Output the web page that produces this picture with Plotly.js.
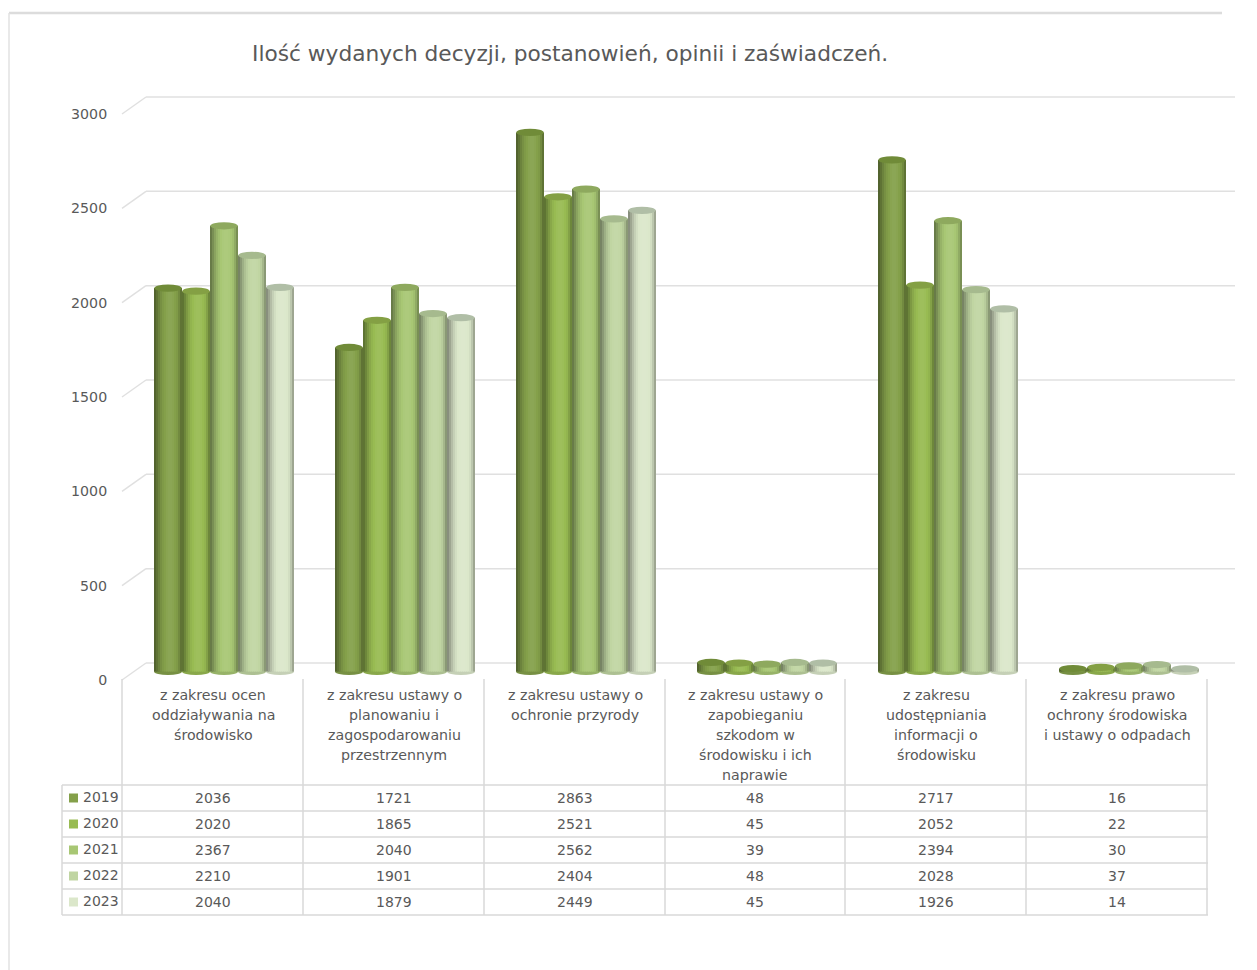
<!DOCTYPE html>
<html>
<head>
<meta charset="utf-8">
<script src="https://cdn.plot.ly/plotly-3.0.1.min.js"></script>
<style>html,body{margin:0;padding:0;background:#fff}#chart{width:1257px;height:970px}</style>
</head>
<body>
<div id="chart"></div>
<script>
const chartTitle = "Ilość wydanych decyzji, postanowień, opinii i zaświadczeń.";
const categories = [
  "z zakresu ocen<br>oddziaływania na<br>środowisko",
  "z zakresu ustawy o<br>planowaniu i<br>zagospodarowaniu<br>przestrzennym",
  "z zakresu ustawy o<br>ochronie przyrody",
  "z zakresu ustawy o<br>zapobieganiu<br>szkodom w<br>środowisku i ich<br>naprawie",
  "z zakresu<br>udostępniania<br>informacji o<br>środowisku",
  "z zakresu prawo<br>ochrony środowiska<br>i ustawy o odpadach"
];
const seriesNames = ["2019","2020","2021","2022","2023"];
const v2019 = [2036,1721,2863,48,2717,16];
const v2020 = [2020,1865,2521,45,2052,22];
const v2021 = [2367,2040,2562,39,2394,30];
const v2022 = [2210,1901,2404,48,2028,37];
const v2023 = [2040,1879,2449,45,1926,14];
const seriesValues = [v2019,v2020,v2021,v2022,v2023];
const yTicks = [0,500,1000,1500,2000,2500,3000];
const seriesColors = ["#84a04a","#98bb52","#a8c774","#c0d5a2","#dbe7ca"];
const capColors = ["#708b38","#84a044","#8ea95e","#a6ba8e","#b0bea6"];
const shade = [0.62,0.72,0.82,0.9,0.96,1.0,1.02,1.03,1.03,1.02,1.0,0.96,0.86,0.72];

const W=1257,H=970;
const px=x=>x/W, py=y=>1-y/H;
const GROUP=181, BAR=28, GROUP0=224;
const TXT="#595959", LINE="#d9d9d9", FONT='"DejaVu Sans", sans-serif';
const scale=(671.5-106.6)/3000, FLOOR=40;

function mix(hex,f){
  const n=parseInt(hex.slice(1),16);
  const c=[n>>16,(n>>8)&255,n&255].map(v=>Math.min(255,Math.round(f<=1?v*f:v+(255-v)*(f-1)*2)));
  return `rgb(${c.join(",")})`;
}
const barW=BAR/GROUP;
const traces=[];
traces.push({type:"scatter",mode:"none",x:categories,y:yTicks.slice(0,6),xaxis:"x",yaxis:"y",hoverinfo:"skip",showlegend:false});
const shapes=[];
seriesValues.forEach((vals,s)=>{
  const strip=barW/shade.length;
  shade.forEach((f,k)=>{
    const off=(s-2.5)*barW+k*strip;
    traces.push({type:"bar",name:seriesNames[s],x:categories,y:vals,xaxis:"x",yaxis:"y2",
      width:vals.map(()=>strip*(k<shade.length-1?1.6:1)),offset:vals.map(()=>off),
      marker:{color:mix(seriesColors[s],f),line:{width:0}},showlegend:false,hoverinfo:"skip"});
  });
  vals.forEach((v,i)=>{
    const x0=i+(s-2.5)*barW, x1=x0+barW, hy=3.6/scale;
    shapes.push({type:"circle",xref:"x",yref:"y2",layer:"below",x0,x1,y0:-hy,y1:hy,
      fillcolor:mix(seriesColors[s],0.9),line:{width:0}});
    shapes.push({type:"circle",xref:"x",yref:"y2",layer:"above",x0:x0+0.002,x1:x1-0.002,y0:v-hy,y1:v+hy,
      fillcolor:capColors[s],line:{width:0}});
  });
});
const gridCol="#e0e0e0";
yTicks.forEach(t=>{
  const yb=663-t*0.18867, yf=680-t*0.18867;
  shapes.unshift({type:"line",xref:"paper",yref:"paper",layer:"below",x0:px(146),x1:px(1235),y0:py(yb),y1:py(yb),line:{color:gridCol,width:1.5}});
  shapes.unshift({type:"line",xref:"paper",yref:"paper",layer:"below",x0:px(122),x1:px(146),y0:py(yf),y1:py(yb),line:{color:gridCol,width:1.5}});
});
const rowY=[785,811,837,863,889,915];
rowY.forEach(y=>shapes.push({type:"line",xref:"paper",yref:"paper",x0:px(62),x1:px(1208),y0:py(y),y1:py(y),line:{color:LINE,width:1.5}}));
shapes.push({type:"line",xref:"paper",yref:"paper",x0:px(62),x1:px(62),y0:py(785),y1:py(915),line:{color:LINE,width:1.5}});
for(let i=0;i<=categories.length;i++){
  const x=122+GROUP*i-(i>3?1:0);
  shapes.push({type:"line",xref:"paper",yref:"paper",x0:px(x),x1:px(x),y0:py(679),y1:py(915),line:{color:LINE,width:1.5}});
}
shapes.push({type:"line",xref:"paper",yref:"paper",x0:px(9),x1:px(1222),y0:py(13),y1:py(13),line:{color:"#dcdcdc",width:2.5}});
shapes.push({type:"line",xref:"paper",yref:"paper",x0:px(9),x1:px(9),y0:py(13),y1:py(970),line:{color:"#e2e2e2",width:1.5}});

const ann=[];
const tf={family:FONT,size:14,color:TXT};
categories.forEach((c,i)=>{
  c.split("<br>").forEach((line,k)=>{
    ann.push({xref:"paper",yref:"paper",x:px(213+GROUP*i-(i>2?1:0)),y:py(695+20*k),xanchor:"center",yanchor:"middle",showarrow:false,text:line,font:{family:FONT,size:14.2,color:TXT}});
  });
});
seriesNames.forEach((n,s)=>{
  const yc=798+26*s;
  shapes.push({type:"rect",xref:"paper",yref:"paper",x0:px(69),x1:px(78),y0:py(yc+4.5),y1:py(yc-4.5),fillcolor:seriesColors[s],line:{width:0}});
  ann.push({xref:"paper",yref:"paper",x:px(81),y:py(yc-1),xanchor:"left",yanchor:"middle",showarrow:false,text:n,font:tf});
  seriesValues[s].forEach((v,i)=>{
    ann.push({xref:"paper",yref:"paper",x:px(213+GROUP*i-(i>2?1:0)),y:py(yc),xanchor:"center",yanchor:"middle",showarrow:false,text:String(v),font:tf});
  });
});
ann.push({xref:"paper",yref:"paper",x:px(250),y:py(53),xanchor:"left",yanchor:"middle",showarrow:false,text:chartTitle,font:{family:FONT,size:21.7,color:TXT}});

const x0r=(122-GROUP0)/GROUP, x1r=(1208-GROUP0)/GROUP;
const layout={
  width:W,height:H,margin:{l:0,r:0,t:0,b:0,pad:0},paper_bgcolor:"#fff",plot_bgcolor:"rgba(0,0,0,0)",
  barmode:"overlay",showlegend:false,
  xaxis:{domain:[px(122),px(1208)],type:"category",range:[x0r,x1r],showticklabels:false,ticks:"",showgrid:false,zeroline:false,showline:false,anchor:"y2"},
  yaxis:{domain:[py(680),py(114)],range:[0,3000],tickvals:yTicks,ticktext:yTicks.map(String),ticks:"outside",ticklen:12,tickcolor:"rgba(0,0,0,0)",
    tickfont:{family:FONT,size:14.2,color:TXT},showgrid:false,zeroline:false,showline:false,anchor:"free",position:px(122),side:"left"},
  yaxis2:{domain:[py(671.5+FLOOR*scale),py(106.6)],range:[-FLOOR,3000],showticklabels:false,ticks:"",showgrid:false,zeroline:false,showline:false,anchor:"x"},
  shapes,annotations:ann
};
Plotly.newPlot("chart",traces,layout,{displayModeBar:false,staticPlot:true});
</script>
</body>
</html>
